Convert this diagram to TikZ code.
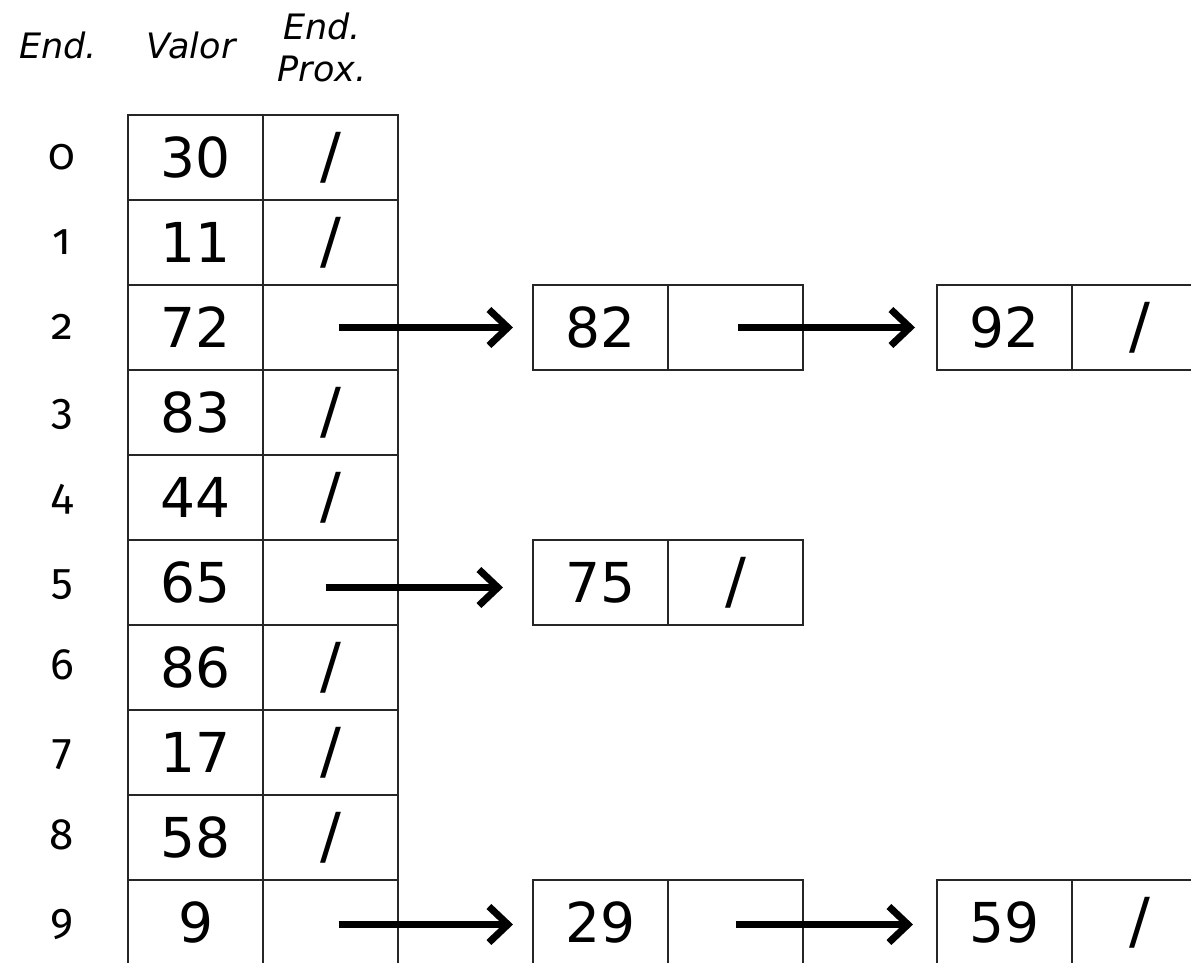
\documentclass[tikz,border=0pt]{standalone}
\usepackage{fontspec}
\setmainfont{DejaVu Sans}
\newfontfamily\idxfont[Numbers=OldStyle]{Fira Sans}
\usetikzlibrary{arrows.meta}
\begin{document}
\begin{tikzpicture}[x=1pt,y=-1pt,
  cell/.style={draw=black!85,line width=2pt,minimum width=135pt,minimum height=85pt,
    inner sep=0pt,anchor=north west,font=\fontsize{55}{55}\selectfont},
  ptr/.style={cell,font=\fontsize{62}{62}\selectfont},
  idx/.style={font=\idxfont\fontsize{44}{44}\selectfont,anchor=base,inner sep=0pt},
  hdr/.style={font=\itshape\fontsize{35}{42}\selectfont,align=center,inner sep=0pt},
  arr/.style={line width=7pt,-{Straight Barb[length=19pt,width=36pt]}}]
\clip (0,0) rectangle (1191,962);
\fill[white] (0,0) rectangle (1191,962);
% headers
\node[hdr] (hEnd) at (58,45) {End.};
\node[hdr] (hVal) at (191,45) {Valor};
\node[hdr] (hProx) at (322,47) {End.\\Prox.};
% table
\def\sl{/}
\foreach \i/\v/\s in {0/30/\sl,1/11/\sl,2/72/{},3/83/\sl,4/44/\sl,5/65/{},6/86/\sl,7/17/\sl,8/58/\sl,9/9/{}}{
  \node[cell] (v\i) at (127,{114+85*\i}) {\v};
  \node[ptr] (p\i) at (262,{114+85*\i}) {\s};
  \node[idx] (i\i) at (62,{156.5+85*\i+13}) {\i};
}
% chained nodes
\node[cell] (n82) at (532,284) {82};
\node[ptr] (q82) at (667,284) {};
\node[cell] (n92) at (936,284) {92};
\node[ptr] (q92) at (1071,284) {/};
\node[cell] (n75) at (532,539) {75};
\node[ptr] (q75) at (667,539) {/};
\node[cell] (n29) at (532,879) {29};
\node[ptr] (q29) at (667,879) {};
\node[cell] (n59) at (936,879) {59};
\node[ptr] (q59) at (1071,879) {/};
% arrow starts
\coordinate (s2) at ([xshift=8pt]p2.center);
\coordinate (s82) at ([xshift=2pt]q82.center);
\coordinate (s5) at ([xshift=-5pt,yshift=-5pt]p5.center);
\coordinate (s9) at ([xshift=8pt,yshift=-2pt]p9.center);
\coordinate (s29) at ([xshift=0pt,yshift=-2pt]q29.center);
\draw[arr,shorten >=19pt] (s2) -- (s2 -| n82.west);
\draw[arr,shorten >=21pt] (s82) -- (s82 -| n92.west);
\draw[arr,shorten >=29pt] (s5) -- (s5 -| n75.west);
\draw[arr,shorten >=19pt] (s9) -- (s9 -| n29.west);
\draw[arr,shorten >=23pt] (s29) -- (s29 -| n59.west);
\end{tikzpicture}
\end{document}
